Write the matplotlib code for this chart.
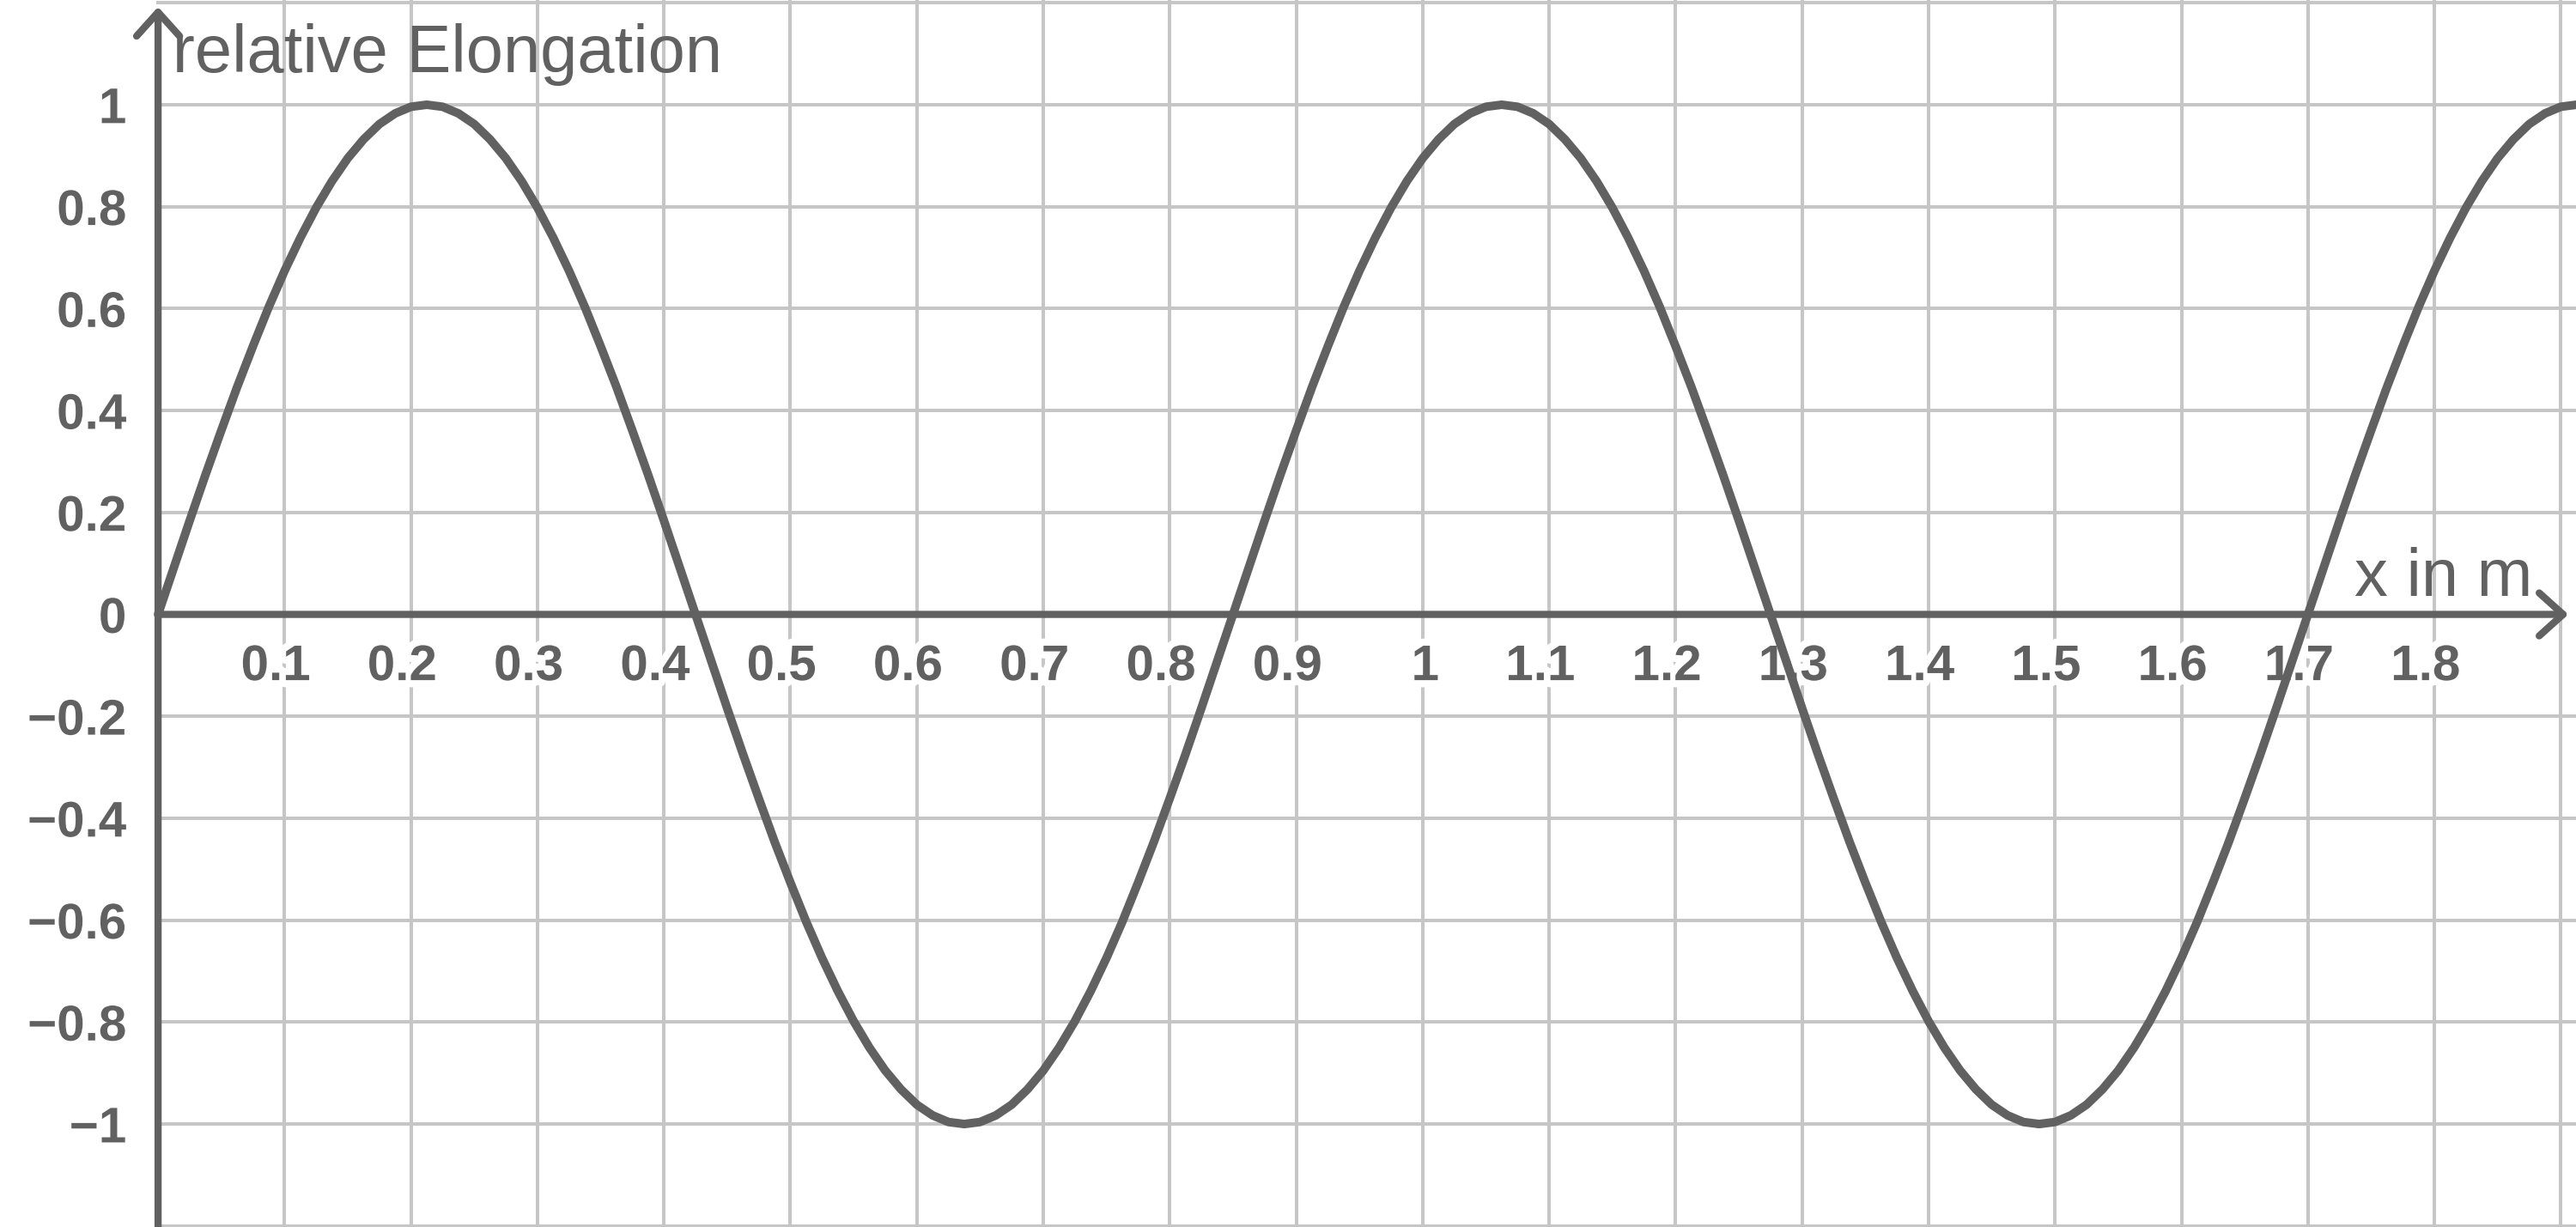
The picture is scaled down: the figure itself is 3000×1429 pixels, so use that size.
import matplotlib
matplotlib.use("Agg")
import matplotlib.pyplot as plt
import matplotlib.patheffects as pe

# wave, every 0.0125 m from 0 to 1.9125 m
x_m = [round(0.0125 * i, 4) for i in range(154)]
elong = [
    # 0 .. 0.4125
    0.0, 0.092, 0.184, 0.274, 0.361, 0.446, 0.526, 0.603, 0.674, 0.739,
    0.798, 0.850, 0.895, 0.932, 0.962, 0.983, 0.996, 1.0, 0.996, 0.983,
    0.962, 0.932, 0.895, 0.850, 0.798, 0.739, 0.674, 0.603, 0.526, 0.446,
    0.361, 0.274, 0.184, 0.092,
    # 0.425 .. 0.8375
    0.0, -0.092, -0.184, -0.274, -0.361, -0.446, -0.526, -0.603, -0.674, -0.739,
    -0.798, -0.850, -0.895, -0.932, -0.962, -0.983, -0.996, -1.0, -0.996, -0.983,
    -0.962, -0.932, -0.895, -0.850, -0.798, -0.739, -0.674, -0.603, -0.526, -0.446,
    -0.361, -0.274, -0.184, -0.092,
    # 0.85 .. 1.2625
    0.0, 0.092, 0.184, 0.274, 0.361, 0.446, 0.526, 0.603, 0.674, 0.739,
    0.798, 0.850, 0.895, 0.932, 0.962, 0.983, 0.996, 1.0, 0.996, 0.983,
    0.962, 0.932, 0.895, 0.850, 0.798, 0.739, 0.674, 0.603, 0.526, 0.446,
    0.361, 0.274, 0.184, 0.092,
    # 1.275 .. 1.6875
    0.0, -0.092, -0.184, -0.274, -0.361, -0.446, -0.526, -0.603, -0.674, -0.739,
    -0.798, -0.850, -0.895, -0.932, -0.962, -0.983, -0.996, -1.0, -0.996, -0.983,
    -0.962, -0.932, -0.895, -0.850, -0.798, -0.739, -0.674, -0.603, -0.526, -0.446,
    -0.361, -0.274, -0.184, -0.092,
    # 1.7 .. 1.9125
    0.0, 0.092, 0.184, 0.274, 0.361, 0.446, 0.526, 0.603, 0.674, 0.739,
    0.798, 0.850, 0.895, 0.932, 0.962, 0.983, 0.996, 1.0,
]

x_ticks = [0.1, 0.2, 0.3, 0.4, 0.5, 0.6, 0.7, 0.8, 0.9, 1.0,
           1.1, 1.2, 1.3, 1.4, 1.5, 1.6, 1.7, 1.8]
x_labels = ["0.1", "0.2", "0.3", "0.4", "0.5", "0.6", "0.7", "0.8", "0.9", "1",
            "1.1", "1.2", "1.3", "1.4", "1.5", "1.6", "1.7", "1.8"]
y_ticks = [1.0, 0.8, 0.6, 0.4, 0.2, 0.0, -0.2, -0.4, -0.6, -0.8, -1.0]
y_labels = ["1", "0.8", "0.6", "0.4", "0.2", "0", "\u22120.2", "\u22120.4",
            "\u22120.6", "\u22120.8", "\u22121"]
x_grid = [0.1 * i for i in range(1, 20)]
y_grid = [-1.2, -1.0, -0.8, -0.6, -0.4, -0.2, 0.2, 0.4, 0.6, 0.8, 1.0, 1.2]

dark = "#616161"
light = "#c6c6c6"
plt.rcParams["font.family"] = ["Liberation Sans", "DejaVu Sans"]

fig = plt.figure(figsize=(15, 7.145), dpi=200)
ax = fig.add_axes([0, 0, 1, 1])
xmin, xmax = -0.125, 1.912
ymin, ymax = -1.202, 1.2055
ax.set_xlim(xmin, xmax)
ax.set_ylim(ymin, ymax)
ax.axis("off")

# grid
for gx in x_grid:
    ax.plot([gx, gx], [ymin, ymax], color=light, lw=1.45, zorder=1)
for gy in y_grid:
    ax.plot([0, xmax], [gy, gy], color=light, lw=1.45, zorder=1)

halo = [pe.withStroke(linewidth=6, foreground="white")]
for t, s in zip(x_ticks, x_labels):
    dx = 0.002 if len(s) == 1 else -0.007
    ax.text(t + dx, -0.129, s, ha="center", va="baseline", fontsize=21,
            fontweight="bold", color=dark, zorder=2, path_effects=halo)
for t, s in zip(y_ticks, y_labels):
    ax.text(-0.025, t - 0.036, s, ha="right", va="baseline", fontsize=21,
            fontweight="bold", color=dark, zorder=2, path_effects=halo)

# axes with arrows
arrow = dict(arrowstyle="->,head_length=0.5,head_width=0.45", mutation_scale=20,
             lw=3.0, color=dark, shrinkA=0, shrinkB=0)
ax.annotate("", xy=(1.906, 0), xytext=(0, 0), arrowprops=arrow, zorder=3)
ax.annotate("", xy=(0, 1.192), xytext=(0, ymin), arrowprops=arrow, zorder=3)

ax.text(0.0115, 1.064, "relative Elongation", fontsize=28, color=dark,
        ha="left", va="baseline", zorder=2)
ax.text(1.737, 0.036, "x in m", fontsize=28, color=dark,
        ha="left", va="baseline", zorder=2)

ax.plot(x_m, elong, color=dark, lw=3.6, solid_capstyle="round",
        solid_joinstyle="round", zorder=4)

fig.savefig("out.png", dpi=200)
